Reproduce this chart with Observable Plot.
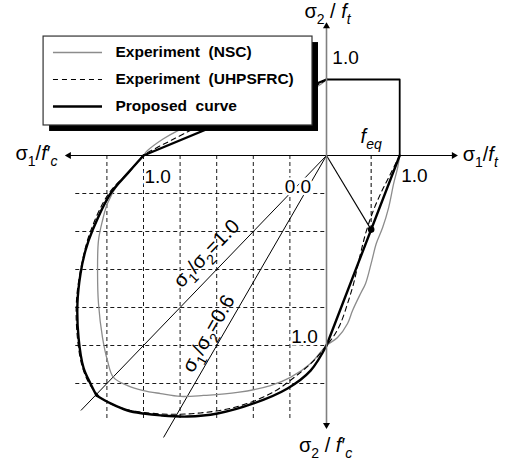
<!DOCTYPE html>
<html>
<head>
<meta charset="utf-8">
<script src="https://cdn.jsdelivr.net/npm/d3@7"></script>
<script src="https://cdn.jsdelivr.net/npm/@observablehq/plot@0.6"></script>
<style>
  html, body { margin: 0; padding: 0; background: #fff; }
  #chart svg { display: block; }
</style>
</head>
<body>
<div id="chart"></div>
<script>
// Biaxial failure envelope. Stresses are [σ1, σ2]; negative = compression
// (normalised by f'c), positive = tension (normalised by ft).
// Tension is drawn at 0.4 of the compression scale.
const TENSION_SCALE = 0.4;

const seriesNames = ["Experiment  (NSC)", "Experiment  (UHPSFRC)", "Proposed  curve"];

// Experiment (NSC)
const nsc = [
  [0, 1.0], [-0.05, 0.91], [-0.15, 0.86], [-0.35, 0.75], [-0.6, 0.55], [-0.814, 0.325],
  [-0.891, 0.221], [-0.978, 0.065], [-1.0, 0],
  [-1.06, -0.063], [-1.137, -0.147], [-1.197, -0.253], [-1.224, -0.342], [-1.246, -0.447],
  [-1.251, -0.621], [-1.246, -0.779], [-1.224, -0.958], [-1.197, -1.079], [-1.164, -1.168],
  [-1.087, -1.211], [-1.0, -1.237], [-0.907, -1.253], [-0.798, -1.268], [-0.672, -1.263],
  [-0.486, -1.247], [-0.306, -1.211], [-0.197, -1.168], [-0.087, -1.095], [0, -1.0],
  [0.151, -0.958], [0.288, -0.884], [0.356, -0.816], [0.466, -0.726], [0.534, -0.674],
  [0.62, -0.553], [0.68, -0.463], [0.767, -0.379], [0.849, -0.274], [0.918, -0.147],
  [0.973, -0.063], [1.0, 0]
];

// Experiment (UHPSFRC)
const uhpsfrc = [
  [0, 1.0], [-0.05, 0.93], [-0.2, 0.82], [-0.45, 0.62], [-0.7, 0.38], [-0.852, 0.195],
  [-0.93, 0.1], [-1.0, 0],
  [-1.071, -0.079], [-1.19, -0.2], [-1.29, -0.4], [-1.335, -0.56], [-1.366, -0.76],
  [-1.362, -0.95], [-1.335, -1.11], [-1.29, -1.21], [-1.22, -1.285], [-1.1, -1.335],
  [-1.0, -1.352], [-0.85, -1.362], [-0.69, -1.355], [-0.5, -1.325], [-0.3, -1.25],
  [-0.14, -1.14], [-0.06, -1.07], [0, -1.0],
  [0.1, -0.95], [0.192, -0.884], [0.288, -0.779], [0.37, -0.674], [0.45, -0.54],
  [0.534, -0.411], [0.63, -0.3], [0.74, -0.2], [0.87, -0.1], [1.0, 0]
];

// Proposed curve; proposedKinks are the indices where it turns sharply
const proposed = [
  [0, 1.0], [-1.0, 0],
  [-1.082, -0.089], [-1.18, -0.2], [-1.279, -0.395], [-1.317, -0.5], [-1.344, -0.621],
  [-1.361, -0.779], [-1.355, -0.958], [-1.328, -1.116], [-1.29, -1.2], [-1.257, -1.263],
  [-1.18, -1.305], [-1.087, -1.342], [-1.0, -1.358], [-0.907, -1.368], [-0.76, -1.374],
  [-0.596, -1.358], [-0.399, -1.305], [-0.213, -1.226], [-0.087, -1.132], [0, -1.0],
  [1.0, 0]
];
const proposedKinks = [1, 11, 21];

// Tension–tension cut-off
const tensionBox = [[0, 1.0], [1.0, 1.0], [1.0, 0]];

// Equivalent tensile point f_eq on the tension–compression branch
const feqPoint = [0.61, -0.39];

// Proportional loading paths σ1/σ2 and how far each is drawn (σ2/f'c)
const stressRatios = [1.0, 0.6];
const ratioReach = [1.342, 1.484];

// Grid lines (compression quadrant)
const gridTicks = [0.2, 0.4, 0.6, 0.8, 1.0, 1.2];
const gridDepth = 1.4;
const gridReach = 1.37;

// Axis ends
const axisS1 = [-1.42, 1.77];
const axisS2 = [-1.43, 1.73];

// ---------------------------------------------------------------------------
const W = 516, H = 465;
const ORIGIN = [326, 155];
const UNIT = [183, 190];
const xDomain = [-ORIGIN[0] / UNIT[0], (W - ORIGIN[0]) / UNIT[0]];
const yDomain = [-(H - ORIGIN[1]) / UNIT[1], ORIGIN[1] / UNIT[1]];

const X = s => (s < 0 ? s : s * TENSION_SCALE);
const Y = s => (s < 0 ? s : s * TENSION_SCALE);
const px = d => X(d[0]);
const py = d => Y(d[1]);

const FONT = "'Liberation Sans', Arial, Helvetica, sans-serif";

const styles = {
  nsc: {stroke: "#8c8c8c", strokeWidth: 1.3},
  uhpsfrc: {stroke: "#000", strokeWidth: 1.1, strokeDasharray: "5,4"},
  proposed: {stroke: "#000", strokeWidth: 2.4}
};

// split the proposed curve into smooth pieces at its corners
const proposedPieces = [];
{
  const cuts = [0, ...proposedKinks, proposed.length - 1];
  for (let i = 0; i < cuts.length - 1; i++) {
    proposedPieces.push(proposed.slice(cuts[i], cuts[i + 1] + 1).map(p => ({p, k: i})));
  }
}

// rich text: [text, flags] where flags may include "sub", "it"
const titlesEnd = [
  {x: X(-1.47), y: Y(0.03),
   parts: [["σ"], ["1", "sub"], ["/"], ["f", "it"], ["′"], ["c", "sub it"]]}
];
const titlesStart = [
  {x: X(1.86), y: Y(0.01),
   parts: [["σ"], ["1", "sub"], ["/"], ["f", "it"], ["t", "sub it"]]},
  {x: X(0.466), y: Y(0.25),
   parts: [["f", "it"], ["eq", "sub it"]]}
];
const titlesMiddle = [
  {x: X(0.014), y: Y(1.895),
   parts: [["σ"], ["2", "sub"], [" / "], ["f", "it"], ["t", "sub it"]]},
  {x: X(-0.005), y: Y(-1.526),
   parts: [["σ"], ["2", "sub"], [" / "], ["f", "it"], ["′"], ["c", "sub it"]]}
];

const ratioLabels = [
  {x: X(-0.656), y: Y(-0.516), rotate: 0,
   parts: [["σ"], ["1", "sub"], ["/"], ["σ"], ["2", "sub"], ["=1.0"]]},
  {x: X(-0.645), y: Y(-0.937), rotate: 0,
   parts: [["σ"], ["1", "sub"], ["/"], ["σ"], ["2", "sub"], ["=0.6"]]}
];
// rotate each label along its loading path
ratioLabels.forEach((d, i) => {
  d.rotate = -Math.atan2(UNIT[1], UNIT[0] * stressRatios[i]) * 180 / Math.PI;
});

const tickLabelsPlain = [
  {x: X(0.26), y: Y(1.28), text: "1.0"},
  {x: X(1.2), y: Y(-0.105), text: "1.0"}
];
const tickLabelsCleared = [
  {x: X(-0.923), y: Y(-0.111), text: "1.0"},
  {x: X(-0.12), y: Y(-0.953), text: "1.0"},
  {x: X(-0.156), y: Y(-0.166), text: "0.0"}
];

// legend box, in plot units
const legendBox = {u1: -1.546, u2: -0.0765, v1: 0.158, v2: 0.626};
const shadow = {du: 6 / UNIT[0], dv: -6 / UNIT[1]};
const legendRowsV = [0.542, 0.4, 0.258];
const legendSample = [-1.492, -1.224];
const legendTextU = -1.153;

const arrowTips = [
  {x: X(axisS1[0]) + 0.012, y: 0, rotate: -90},
  {x: X(axisS1[1]) - 0.012, y: 0, rotate: 90},
  {x: 0, y: Y(axisS2[1]) - 0.012, rotate: 0},
  {x: 0, y: Y(axisS2[0]) + 0.012, rotate: 180}
];

const keys = ["nsc", "uhpsfrc", "proposed"];
const plainText = d => d.parts.map(p => p[0]).join("");
const richText = (data, anchor, tag, extra = {}) =>
  Plot.text(data, {x: "x", y: "y", text: plainText, textAnchor: anchor, fontSize: 20,
    fontFamily: FONT, fill: "#000", ariaDescription: tag, ...extra});

const chart = Plot.plot({
  width: W,
  height: H,
  margin: 0,
  x: {domain: xDomain, axis: null},
  y: {domain: yDomain, axis: null},
  style: {fontFamily: FONT, background: "#fff", color: "#000"},
  marks: [
    // grid
    Plot.ruleX(gridTicks, {x: d => X(-d), y1: 0, y2: Y(-gridDepth),
      stroke: "#000", strokeWidth: 0.9, strokeDasharray: "4,3"}),
    Plot.ruleY(gridTicks, {y: d => Y(-d), x1: X(-gridReach), x2: 0,
      stroke: "#000", strokeWidth: 0.9, strokeDasharray: "4,3"}),

    // loading paths
    Plot.link(stressRatios, {x1: 0, y1: 0,
      x2: (r, i) => X(-r * ratioReach[i]), y2: (r, i) => Y(-ratioReach[i]),
      stroke: "#000", strokeWidth: 1}),

    // f_eq construction
    Plot.link([feqPoint], {x1: 0, y1: 0, x2: px, y2: py, stroke: "#000", strokeWidth: 1.1}),
    Plot.ruleX([feqPoint], {x: px, y1: 0, y2: py, stroke: "#000", strokeWidth: 1,
      strokeDasharray: "4,3"}),

    // tension box
    Plot.line(tensionBox, {x: px, y: py, stroke: "#000", strokeWidth: 1.8}),

    // envelopes
    Plot.line(nsc, {x: px, y: py, curve: "catmull-rom", ...styles.nsc}),
    Plot.line(uhpsfrc, {x: px, y: py, curve: "catmull-rom", ...styles.uhpsfrc}),
    Plot.line(proposedPieces.flat(), {x: d => px(d.p), y: d => py(d.p), z: "k",
      curve: "catmull-rom", strokeLinejoin: "round", ...styles.proposed}),

    Plot.dot([feqPoint], {x: px, y: py, r: 3.3, fill: "#000"}),

    // axes
    Plot.ruleY([0], {x1: X(axisS1[0]), x2: X(axisS1[1]), stroke: "#000", strokeWidth: 1}),
    Plot.ruleX([0], {y1: Y(axisS2[0]), y2: Y(axisS2[1]), stroke: "#808080", strokeWidth: 1.6}),
    Plot.dot(arrowTips, {x: "x", y: "y", rotate: "rotate", symbol: "triangle",
      r: 2.6, fill: "#000", stroke: "none"}),

    // tick values
    Plot.text(tickLabelsPlain, {x: "x", y: "y", text: "text", fontSize: 19,
      fontFamily: FONT, fill: "#000"}),
    Plot.text(tickLabelsCleared, {x: "x", y: "y", text: "text", fontSize: 19,
      fontFamily: FONT, fill: "#000", stroke: "#fff", strokeWidth: 5, paintOrder: "stroke"}),

    // titles
    richText(titlesEnd, "end", "titles-end"),
    richText(titlesStart, "start", "titles-start"),
    richText(titlesMiddle, "middle", "titles-middle"),
    richText(ratioLabels, "middle", "ratio-labels", {rotate: "rotate"}),

    // legend
    Plot.rect([legendBox], {x1: d => d.u1 + shadow.du, x2: d => d.u2 + shadow.du,
      y1: d => d.v1 + shadow.dv, y2: d => d.v2 + shadow.dv, fill: "#000"}),
    Plot.rect([legendBox], {x1: "u1", x2: "u2", y1: "v1", y2: "v2",
      fill: "#fff", stroke: "#333", strokeWidth: 1.2}),
    ...keys.map((k, i) => Plot.ruleY([legendRowsV[i]], {y: d => d,
      x1: legendSample[0], x2: legendSample[1], ...styles[k]})),
    Plot.text(seriesNames, {x: legendTextU, y: (d, i) => legendRowsV[i], text: d => d,
      textAnchor: "start", fontSize: 15.5, fontWeight: "bold", fontFamily: FONT, fill: "#000"})
  ]
});

// turn the plain strings into σ with subscripts, italic f, primes
function enrich(svg, tag, items, fs) {
  d3.select(svg).selectAll(`g[aria-description="${tag}"] text`).each(function (_, i) {
    const el = d3.select(this);
    el.text(null);
    let shift = 0;
    for (const [t, flags = ""] of items[i].parts) {
      const sub = flags.includes("sub");
      const ts = el.append("tspan").text(t);
      if (flags.includes("it")) ts.attr("font-style", "italic");
      const target = sub ? 0.3 * fs : 0;
      const dy = target - shift;
      if (dy !== 0) ts.attr("dy", dy);
      shift = target;
      if (sub) ts.attr("font-size", 0.7 * fs);
    }
  });
}
enrich(chart, "titles-end", titlesEnd, 20);
enrich(chart, "titles-start", titlesStart, 20);
enrich(chart, "titles-middle", titlesMiddle, 20);
enrich(chart, "ratio-labels", ratioLabels, 20);

document.getElementById("chart").appendChild(chart);
</script>
</body>
</html>
